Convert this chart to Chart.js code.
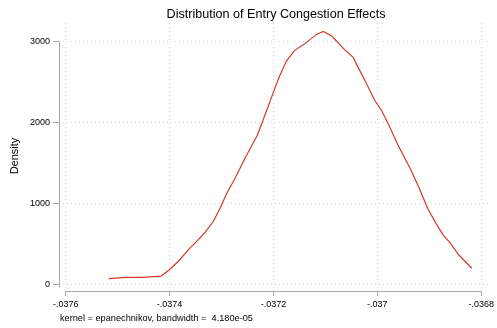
<!DOCTYPE html>
<html>
<head>
<meta charset="utf-8">
<script src="https://cdn.jsdelivr.net/npm/chart.js@4.4.1/dist/chart.umd.min.js"></script>
<style>
  html, body { margin: 0; padding: 0; background: #fff; }
</style>
</head>
<body>
<canvas id="grafico" width="497" height="328"></canvas>
<script>
// ===== DADOS =====
const titulo = "Distribution of Entry Congestion Effects";
const nota = "kernel = epanechnikov, bandwidth =  4.180e-05";
const rotuloY = "Density";

const xTicks = [-0.0376, -0.0374, -0.0372, -0.037, -0.0368];
const xTickLabels = ["-.0376", "-.0374", "-.0372", "-.037", "-.0368"];
const yTicks = [0, 1000, 2000, 3000];
const yTickLabels = ["0", "1000", "2000", "3000"];

// efeito de congestionamento (x) e densidade estimada (y)
const efeito = [
    -0.037517, -0.037484, -0.037452, -0.037416, -0.037401, -0.037382, -0.037363,
    -0.037344, -0.037331, -0.037316, -0.037303, -0.037290, -0.037274, -0.037255,
    -0.037231, -0.037220, -0.037201, -0.037189, -0.037175, -0.037159, -0.037141,
    -0.037117, -0.037104, -0.037087, -0.037065, -0.037046, -0.037039, -0.037024,
    -0.037005, -0.036992, -0.036976, -0.036960, -0.036935, -0.036919, -0.036903,
    -0.036887, -0.036873, -0.036859, -0.036843, -0.036818
];
const densidade = [
    69, 86, 86, 102, 177, 291, 432,
    556, 649, 773, 938, 1123, 1309, 1556,
    1843, 2028, 2358, 2563, 2761, 2893, 2967,
    3090, 3127, 3066, 2914, 2803, 2707, 2522,
    2275, 2152, 1946, 1720, 1411, 1185, 938,
    753, 609, 506, 362, 198
];

// ===== ESTILO =====
const fonte = "'Liberation Sans', Arial, Helvetica, sans-serif";
const corEixo = "#a8a8a8";
const corGrade = "#d4d4d4";
const corLinha = "#d03a2c";

// eixos no estilo Stata (só entre o primeiro e o último tick) + textos
const eixosStata = {
    id: "eixosStata",
    afterDraw(chart) {
        const { ctx, chartArea, scales: { x, y } } = chart;
        ctx.save();
        ctx.strokeStyle = corEixo;
        ctx.lineWidth = 1;
        ctx.beginPath();
        const yb = Math.round(chartArea.bottom) + 0.5;
        ctx.moveTo(x.getPixelForValue(xTicks[0]), yb);
        ctx.lineTo(x.getPixelForValue(xTicks[xTicks.length - 1]), yb);
        const xl = Math.round(chartArea.left) + 0.5;
        ctx.moveTo(xl, y.getPixelForValue(yTicks[yTicks.length - 1]));
        ctx.lineTo(xl, y.getPixelForValue(yTicks[0]) + 3);
        ctx.stroke();

        ctx.fillStyle = "#000";
        ctx.font = "12.6px " + fonte;
        ctx.textAlign = "center";
        ctx.textBaseline = "middle";
        ctx.fillText(titulo, 276, 15);

        ctx.font = "9.2px " + fonte;
        ctx.textAlign = "left";
        ctx.fillText(nota, 60, 318);

        ctx.translate(15, 156);
        ctx.rotate(-Math.PI / 2);
        ctx.font = "11px " + fonte;
        ctx.textAlign = "center";
        ctx.fillText(rotuloY, 0, 0);
        ctx.restore();
    }
};

const ctx = document.getElementById("grafico");

new Chart(ctx, {
    type: "scatter",
    data: {
        datasets: [{
            data: efeito.map((v, i) => ({ x: v, y: densidade[i] })),
            showLine: true,
            borderColor: corLinha,
            borderWidth: 1.2,
            pointRadius: 0,
            tension: 0,
            fill: false
        }]
    },
    options: {
        responsive: false,
        animation: false,
        devicePixelRatio: 1,
        layout: { padding: { top: 23, right: 4, left: 0, bottom: 0 } },
        plugins: {
            legend: { display: false },
            title: { display: false },
            tooltip: { enabled: false }
        },
        scales: {
            x: {
                type: "linear",
                min: -0.0376128,
                max: -0.0367861,
                border: { display: false, dash: [1, 3] },
                grid: {
                    color: corGrade,
                    tickColor: corEixo,
                    tickBorderDash: [],
                    tickLength: 5
                },
                afterBuildTicks: (s) => { s.ticks = xTicks.map(v => ({ value: v })); },
                afterFit: (s) => { s.height = 37; },
                ticks: {
                    autoSkip: false,
                    maxRotation: 0,
                    padding: 3,
                    color: "#000",
                    font: { family: fonte, size: 9 },
                    callback: (v, i) => xTickLabels[i]
                }
            },
            y: {
                type: "linear",
                min: -83,
                max: 3231,
                border: { display: false, dash: [1, 3] },
                grid: {
                    color: corGrade,
                    tickColor: corEixo,
                    tickBorderDash: [],
                    tickLength: 6
                },
                afterBuildTicks: (s) => { s.ticks = yTicks.map(v => ({ value: v })); },
                afterFit: (s) => { s.width = 59; },
                ticks: {
                    autoSkip: false,
                    padding: 3,
                    color: "#000",
                    font: { family: fonte, size: 9 },
                    callback: (v, i) => yTickLabels[i]
                }
            }
        }
    },
    plugins: [eixosStata]
});
</script>
</body>
</html>
